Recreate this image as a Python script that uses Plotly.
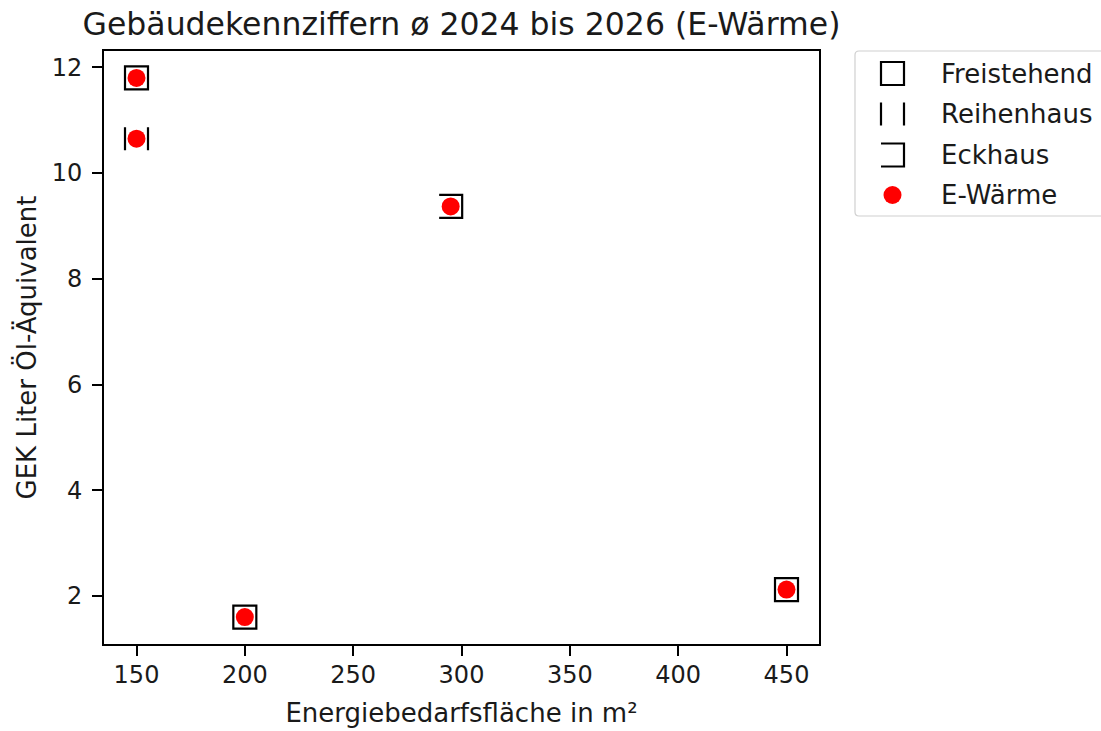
import plotly.graph_objects as go

# Gebäudedaten: Fläche (m²), Kennziffer (Liter Öl-Äquivalent), Bauart
flaeche = [150, 150, 295, 200, 450]
gek = [11.8, 10.65, 9.37, 1.6, 2.12]
bauart = ["Freistehend", "Reihenhaus", "Eckhaus", "Freistehend", "Freistehend"]

legend_labels = ["Freistehend", "Reihenhaus", "Eckhaus", "E-Wärme"]
x_ticks = [150, 200, 250, 300, 350, 400, 450]
y_ticks = [2, 4, 6, 8, 10, 12]

FONT = "DejaVu Sans"
TXT = "#1a1a1a"

# Bauart-Symbole als Pfade in Pixeln um den Mittelpunkt (y nach oben)
h = 11.5
symbol_paths = {
    "Freistehend": f"M {-h},{-h} L {h},{-h} L {h},{h} L {-h},{h} Z",
    "Reihenhaus": f"M {-h},{-h} L {-h},{h} M {h},{-h} L {h},{h}",
    "Eckhaus": f"M {-h},{h} L {h},{h} L {h},{-h} L {-h},{-h}",
}

W, H = 1101, 731
L, R, T, B = 104, 282, 51, 87
PW, PH = W - L - R, H - T - B


def px_x(p):
    return (p - L) / PW


def px_y(p):
    return 1 - (p - T) / PH


shapes = []
for xv, yv, art in zip(flaeche, gek, bauart):
    shapes.append(dict(
        type="path", xref="x", yref="y",
        xsizemode="pixel", ysizemode="pixel",
        xanchor=xv, yanchor=yv,
        path=symbol_paths[art],
        line=dict(color="black", width=2.2),
        layer="below",
    ))

fig = go.Figure()
fig.add_trace(go.Scatter(
    x=flaeche, y=gek, mode="markers", name="E-Wärme",
    marker=dict(color="red", size=18, line=dict(width=0)),
    showlegend=False, cliponaxis=False,
))

# Legende: Rahmen mit abgerundeten Ecken
r = 4
bw, bh = 270, 165
shapes.append(dict(
    type="path", xref="paper", yref="paper",
    xsizemode="pixel", ysizemode="pixel",
    xanchor=px_x(855), yanchor=px_y(51),
    path=(f"M {r},0 L {bw},0 L {bw},{-bh} L {r},{-bh} "
          f"Q 0,{-bh} 0,{-bh + r} L 0,{-r} Q 0,0 {r},0 Z"),
    line=dict(color="#d0d0d0", width=1.2),
    fillcolor="white", layer="above",
))

row_y = [73.5, 114, 155, 195]
icon_x = 892.5
annotations = []
for label, ry in zip(legend_labels, row_y):
    if label in symbol_paths:
        shapes.append(dict(
            type="path", xref="paper", yref="paper",
            xsizemode="pixel", ysizemode="pixel",
            xanchor=px_x(icon_x), yanchor=px_y(ry),
            path=symbol_paths[label],
            line=dict(color="black", width=2.2), layer="above",
        ))
    else:
        shapes.append(dict(
            type="circle", xref="paper", yref="paper",
            xsizemode="pixel", ysizemode="pixel",
            xanchor=px_x(icon_x), yanchor=px_y(ry),
            x0=-9, x1=9, y0=-9, y1=9,
            line=dict(color="red", width=0), fillcolor="red", layer="above",
        ))
    annotations.append(dict(
        text=label, xref="paper", yref="paper",
        x=px_x(939), y=px_y(ry), xanchor="left", yanchor="middle",
        showarrow=False, font=dict(family=FONT, size=26, color=TXT),
    ))

axis_common = dict(
    showline=True, linecolor="black", linewidth=1.6, mirror=True,
    showgrid=False, zeroline=False, automargin=False,
    ticks="outside", ticklen=10, tickwidth=1.6, tickcolor="black",
    tickfont=dict(family=FONT, size=24, color=TXT),
)

fig.update_layout(
    width=W, height=H,
    margin=dict(l=L, r=R, t=T, b=B),
    paper_bgcolor="white", plot_bgcolor="white",
    title=dict(
        text="Gebäudekennziffern ø 2024 bis 2026 (E-Wärme)",
        font=dict(family=FONT, size=31.5, color=TXT),
        x=0.5, xref="paper", xanchor="center",
        y=1 - 24 / H, yref="container", yanchor="middle",
    ),
    xaxis=dict(
        range=[135, 465], tickvals=x_ticks, ticklabelstandoff=-2,
        title=dict(text="Energiebedarfsfläche in m²", standoff=16,
                   font=dict(family=FONT, size=26, color=TXT)),
        **axis_common,
    ),
    yaxis=dict(
        range=[1.09, 12.31], tickvals=y_ticks, ticklabelstandoff=5,
        title=dict(text="GEK Liter Öl-Äquivalent", standoff=8,
                   font=dict(family=FONT, size=26, color=TXT)),
        **axis_common,
    ),
    shapes=shapes,
    annotations=annotations,
    showlegend=False,
)

fig.write_html("out.html")
